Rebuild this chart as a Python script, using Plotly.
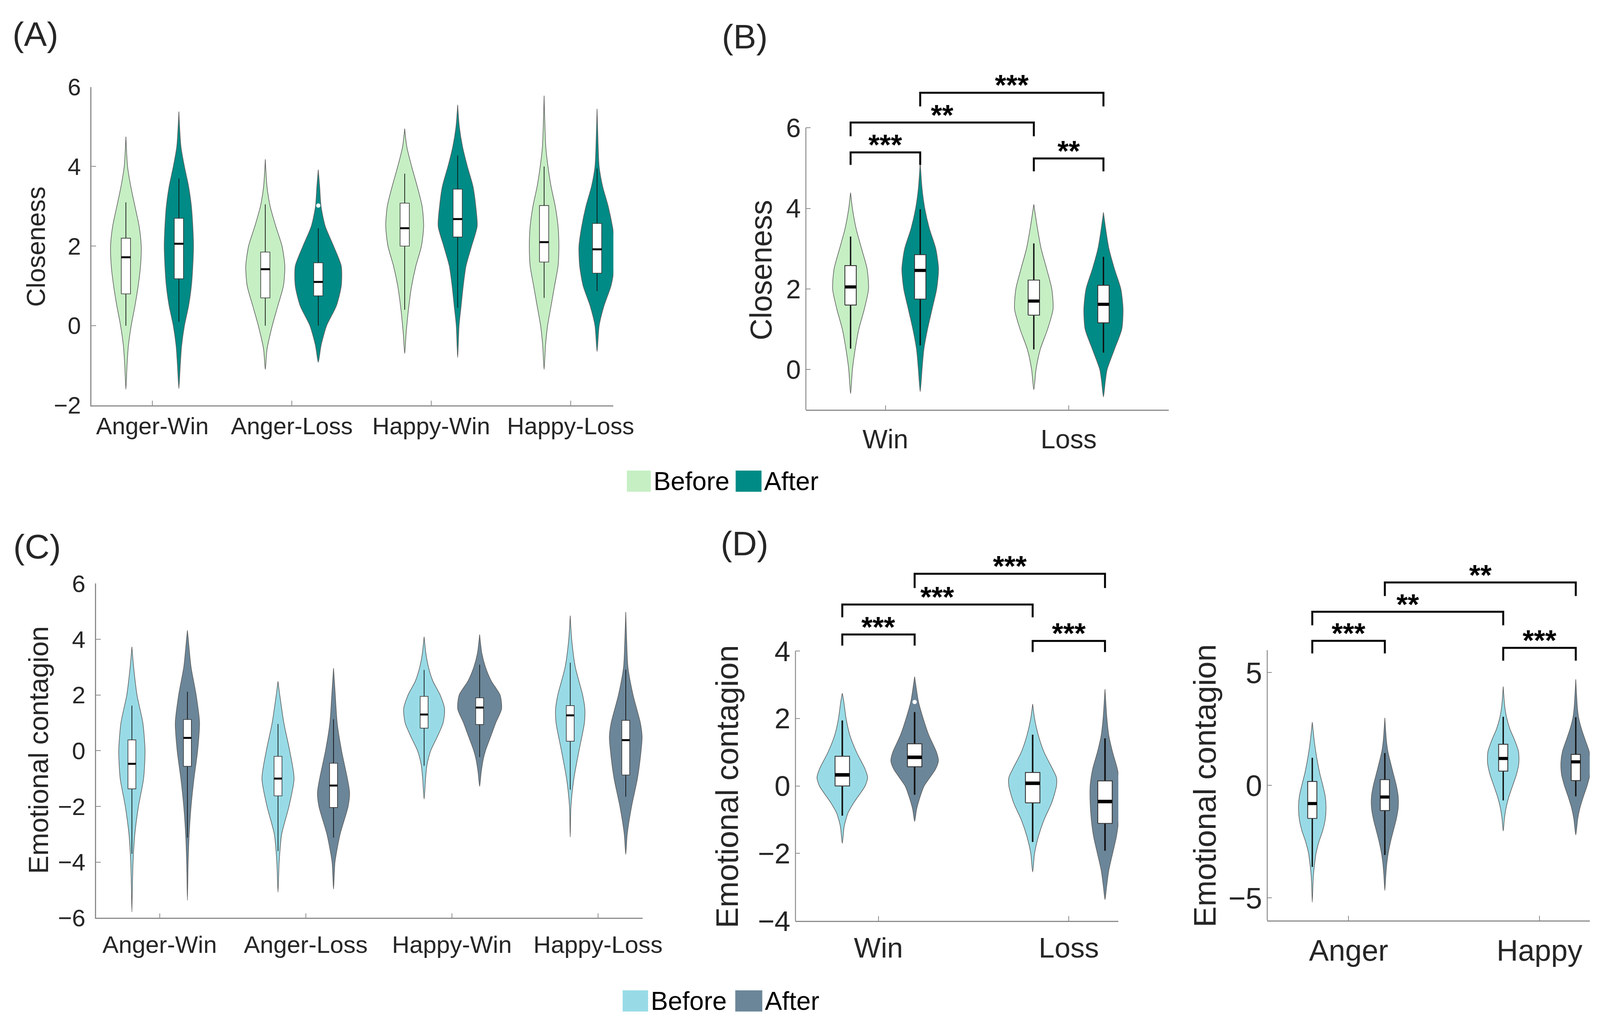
import plotly.graph_objects as go

FONT = "Liberation Sans, Arial, Helvetica, sans-serif"
TXT = "#262626"
AXC = "#8c8c8c"

GREEN_BEFORE = "#c6efc4"
GREEN_AFTER = "#008b86"
BLUE_BEFORE = "#98dbe6"
BLUE_AFTER = "#6b8699"

# ---------------- Panel A : Closeness by condition ----------------
A_CATEGORIES = ["Anger-Win", "Anger-Loss", "Happy-Win", "Happy-Loss"]
# violin outlines: [value, half-width]
A_BEFORE_PROFILES = [
    [[-1.6, 0], [-1.0, 0.008], [-0.5, 0.018], [0.0, 0.038], [0.5, 0.065], [1.0, 0.088], [1.5, 0.105],
     [2.0, 0.11], [2.5, 0.095], [3.0, 0.065], [3.5, 0.035], [4.0, 0.012], [4.75, 0]],
    [[-1.1, 0], [-0.6, 0.012], [0.0, 0.05], [0.5, 0.09], [1.0, 0.13], [1.5, 0.14], [2.0, 0.12],
     [2.5, 0.075], [3.0, 0.035], [3.5, 0.012], [4.18, 0]],
    [[-0.7, 0], [-0.2, 0.01], [0.5, 0.03], [1.0, 0.05], [1.5, 0.08], [2.0, 0.12], [2.5, 0.136],
     [3.0, 0.125], [3.5, 0.09], [4.0, 0.05], [4.5, 0.015], [4.95, 0]],
    [[-1.1, 0], [-0.5, 0.01], [0.0, 0.025], [0.5, 0.05], [1.0, 0.075], [1.5, 0.1], [2.0, 0.106],
     [2.5, 0.1], [3.0, 0.08], [3.5, 0.05], [4.0, 0.028], [4.5, 0.012], [5.78, 0]],
]
A_AFTER_PROFILES = [
    [[-1.58, 0], [-1.0, 0.01], [-0.5, 0.02], [0.0, 0.04], [0.5, 0.07], [1.0, 0.09], [1.5, 0.1],
     [2.0, 0.105], [2.5, 0.1], [3.0, 0.09], [3.5, 0.07], [4.0, 0.04], [4.5, 0.015], [5.38, 0]],
    [[-0.92, 0], [-0.5, 0.02], [0.0, 0.06], [0.5, 0.13], [1.0, 0.165], [1.5, 0.165], [2.0, 0.11],
     [2.5, 0.05], [3.0, 0.02], [3.5, 0.01], [3.92, 0]],
    [[-0.8, 0], [0.0, 0.01], [0.5, 0.025], [1.0, 0.04], [1.5, 0.06], [2.0, 0.1], [2.5, 0.14],
     [3.0, 0.13], [3.5, 0.11], [4.0, 0.07], [4.5, 0.035], [5.0, 0.012], [5.55, 0]],
    [[-0.65, 0], [0.0, 0.015], [0.5, 0.05], [1.0, 0.1], [1.5, 0.125], [2.0, 0.13], [2.5, 0.11],
     [3.0, 0.08], [3.5, 0.04], [4.0, 0.015], [4.5, 0.008], [5.45, 0]],
]
# box stats: [lower whisker, q1, median, q3, upper whisker]
A_BEFORE_STATS = [[0.0, 0.8, 1.72, 2.2, 3.1], [0.0, 0.7, 1.42, 1.85, 3.05],
                  [0.4, 2.0, 2.45, 3.08, 3.82], [0.7, 1.6, 2.1, 3.02, 4.0]]
A_AFTER_STATS = [[0.1, 1.18, 2.06, 2.7, 3.7], [0.0, 0.75, 1.1, 1.58, 2.45],
                 [0.45, 2.23, 2.68, 3.43, 4.28], [0.87, 1.32, 1.92, 2.57, 3.95]]
A_AFTER_OUTLIERS = [[], [3.02], [], []]

# ---------------- Panel B : Closeness by outcome ----------------
B_CATEGORIES = ["Win", "Loss"]
B_BEFORE_PROFILES = [
    [[-0.6, 0], [0.0, 0.01], [0.5, 0.025], [1.0, 0.045], [1.5, 0.075], [2.0, 0.098], [2.5, 0.09],
     [3.0, 0.06], [3.5, 0.03], [4.0, 0.01], [4.39, 0]],
    [[-0.5, 0], [0.0, 0.012], [0.5, 0.035], [1.0, 0.075], [1.5, 0.105], [2.0, 0.098], [2.5, 0.07],
     [3.0, 0.04], [3.5, 0.02], [4.1, 0]],
]
B_AFTER_PROFILES = [
    [[-0.55, 0], [0.0, 0.01], [0.5, 0.02], [1.0, 0.04], [1.5, 0.065], [2.0, 0.09], [2.5, 0.1],
     [3.0, 0.085], [3.5, 0.05], [4.0, 0.025], [4.5, 0.01], [5.15, 0]],
    [[-0.68, 0], [-0.3, 0.01], [0.0, 0.02], [0.5, 0.06], [1.0, 0.1], [1.5, 0.107], [2.0, 0.095],
     [2.5, 0.06], [3.0, 0.03], [3.5, 0.012], [3.9, 0]],
]
B_BEFORE_STATS = [[0.52, 1.6, 2.05, 2.58, 3.3], [0.5, 1.35, 1.7, 2.22, 3.13]]
B_AFTER_STATS = [[0.6, 1.75, 2.46, 2.85, 3.98], [0.42, 1.16, 1.62, 2.09, 2.8]]
# brackets: [from violin, to violin, bar value, leg value, label]; violins 0..3 = Win-B, Win-A, Loss-B, Loss-A
B_BRACKETS = [[0, 1, 5.39, 5.08, "***"], [2, 3, 5.24, 4.92, "**"],
              [0, 2, 6.13, 5.79, "**"], [1, 3, 6.87, 6.53, "***"]]

# ---------------- Panel C : Emotional contagion by condition ----------------
C_CATEGORIES = ["Anger-Win", "Anger-Loss", "Happy-Win", "Happy-Loss"]
C_BEFORE_PROFILES = [
    [[-5.79, 0], [-5.0, 0.003], [-4.0, 0.008], [-3.0, 0.02], [-2.0, 0.045], [-1.0, 0.08], [0.0, 0.09],
     [1.0, 0.075], [2.0, 0.035], [3.0, 0.012], [3.73, 0]],
    [[-5.08, 0], [-4.0, 0.008], [-3.0, 0.025], [-2.0, 0.075], [-1.0, 0.11], [0.0, 0.08], [1.0, 0.04],
     [2.0, 0.012], [2.49, 0]],
    [[-1.74, 0], [-1.0, 0.01], [-0.5, 0.02], [0.0, 0.045], [0.5, 0.09], [1.0, 0.13], [1.5, 0.14],
     [2.0, 0.11], [2.5, 0.06], [3.0, 0.03], [3.5, 0.012], [4.09, 0]],
    [[-3.1, 0], [-2.0, 0.005], [-1.0, 0.025], [0.0, 0.06], [1.0, 0.097], [1.5, 0.1], [2.0, 0.085],
     [3.0, 0.035], [4.0, 0.01], [4.85, 0]],
]
C_AFTER_PROFILES = [
    [[-5.37, 0], [-4.0, 0.005], [-3.0, 0.012], [-2.0, 0.025], [-1.0, 0.045], [0.0, 0.07], [1.0, 0.083],
     [2.0, 0.06], [3.0, 0.025], [4.0, 0.006], [4.32, 0]],
    [[-4.97, 0], [-4.0, 0.01], [-3.0, 0.045], [-2.0, 0.1], [-1.5, 0.11], [-1.0, 0.095], [0.0, 0.055],
     [1.0, 0.025], [2.0, 0.012], [2.96, 0]],
    [[-1.28, 0], [-0.8, 0.01], [-0.3, 0.025], [0.0, 0.04], [0.5, 0.075], [1.0, 0.11], [1.5, 0.15],
     [2.0, 0.14], [2.5, 0.08], [3.0, 0.04], [3.5, 0.015], [4.17, 0]],
    [[-3.72, 0], [-3.0, 0.01], [-2.0, 0.04], [-1.0, 0.08], [0.0, 0.105], [0.5, 0.112], [1.0, 0.1],
     [2.0, 0.05], [3.0, 0.015], [4.0, 0.006], [4.98, 0]],
]
C_BEFORE_STATS = [[-3.7, -1.37, -0.47, 0.39, 1.62], [-3.6, -1.62, -1.0, -0.2, 0.96],
                  [-0.54, 0.81, 1.3, 1.95, 2.9], [-1.4, 0.34, 1.27, 1.62, 3.16]]
C_AFTER_STATS = [[-3.12, -0.56, 0.46, 1.12, 2.12], [-3.12, -2.04, -1.25, -0.45, 1.13],
                 [-0.23, 0.94, 1.55, 1.9, 3.09], [-1.65, -0.87, 0.38, 1.09, 2.91]]

# ---------------- Panel D : Emotional contagion by outcome ----------------
D_CATEGORIES = ["Win", "Loss"]
D_BEFORE_PROFILES = [
    [[-1.7, 0], [-1.2, 0.01], [-0.8, 0.03], [-0.5, 0.06], [0.0, 0.12], [0.25, 0.133], [0.5, 0.12],
     [1.0, 0.075], [1.5, 0.04], [2.0, 0.02], [2.5, 0.008], [2.75, 0]],
    [[-2.55, 0], [-2.0, 0.01], [-1.5, 0.03], [-1.0, 0.06], [-0.5, 0.1], [0.0, 0.125], [0.25, 0.125],
     [0.5, 0.105], [1.0, 0.06], [1.5, 0.03], [2.0, 0.01], [2.43, 0]],
]
D_AFTER_PROFILES = [
    [[-1.05, 0], [-0.7, 0.01], [-0.3, 0.03], [0.0, 0.05], [0.5, 0.11], [0.75, 0.125], [1.0, 0.115],
     [1.5, 0.075], [2.0, 0.045], [2.5, 0.02], [3.0, 0.006], [3.24, 0]],
    [[-3.37, 0], [-3.0, 0.008], [-2.5, 0.02], [-2.0, 0.04], [-1.5, 0.06], [-1.0, 0.072], [-0.5, 0.078],
     [0.0, 0.078], [0.5, 0.065], [1.0, 0.04], [1.5, 0.02], [2.0, 0.01], [2.87, 0]],
]
D_BEFORE_STATS = [[-0.88, 0.0, 0.33, 0.88, 1.94], [-1.66, -0.5, 0.08, 0.4, 1.52]]
D_AFTER_STATS = [[-0.26, 0.57, 0.85, 1.25, 2.19], [-1.92, -1.11, -0.46, 0.15, 1.41]]
D_AFTER_OUTLIERS = [[2.49], []]
D_BRACKETS = [[0, 1, 4.49, 4.16, "***"], [2, 3, 4.30, 3.97, "***"],
              [0, 2, 5.38, 5.0, "***"], [1, 3, 6.29, 5.87, "***"]]

# ---------------- Panel E : Emotional contagion by emotion ----------------
E_CATEGORIES = ["Anger", "Happy"]
E_BEFORE_PROFILES = [
    [[-5.19, 0], [-4.5, 0.003], [-4.0, 0.006], [-3.5, 0.012], [-3.0, 0.02], [-2.5, 0.035], [-2.0, 0.055],
     [-1.5, 0.068], [-1.0, 0.072], [-0.5, 0.068], [0.0, 0.055], [0.5, 0.04], [1.0, 0.028], [1.5, 0.018],
     [2.0, 0.01], [2.8, 0]],
    [[-2.03, 0], [-1.5, 0.006], [-1.0, 0.015], [-0.5, 0.03], [0.0, 0.05], [0.5, 0.07], [1.0, 0.082],
     [1.5, 0.08], [2.0, 0.06], [2.5, 0.035], [3.0, 0.018], [3.5, 0.008], [4.38, 0]],
]
E_AFTER_PROFILES = [
    [[-4.67, 0], [-4.0, 0.005], [-3.5, 0.01], [-3.0, 0.018], [-2.5, 0.03], [-2.0, 0.045], [-1.5, 0.06],
     [-1.0, 0.07], [-0.5, 0.07], [0.0, 0.06], [0.5, 0.045], [1.0, 0.03], [1.5, 0.016], [2.0, 0.008],
     [2.99, 0]],
    [[-2.2, 0], [-1.5, 0.01], [-1.0, 0.022], [-0.5, 0.04], [0.0, 0.06], [0.5, 0.075], [1.0, 0.078],
     [1.5, 0.07], [2.0, 0.05], [2.5, 0.03], [3.0, 0.015], [3.5, 0.008], [4.7, 0]],
]
E_BEFORE_STATS = [[-3.62, -1.47, -0.81, 0.17, 1.22], [-0.67, 0.63, 1.19, 1.82, 3.04]]
E_AFTER_STATS = [[-3.09, -1.12, -0.52, 0.25, 1.43], [-0.49, 0.21, 1.04, 1.37, 3.02]]
E_BRACKETS = [[0, 1, 6.41, 5.85, "***"], [2, 3, 6.1, 5.53, "***"],
              [0, 2, 7.7, 7.1, "**"], [1, 3, 9.0, 8.4, "**"]]

Y_TICKS_A = [-2, 0, 2, 4, 6]
Y_TICKS_B = [0, 2, 4, 6]
Y_TICKS_C = [-6, -4, -2, 0, 2, 4, 6]
Y_TICKS_D = [-4, -2, 0, 2, 4]
Y_TICKS_E = [-5, 0, 5]

W, H = 4166, 2635


def px_x(p):
    return p / W


def px_y(p):
    return 1 - p / H


PANELS = [
    dict(ax="", cats=A_CATEGORIES, bp=A_BEFORE_PROFILES, ap=A_AFTER_PROFILES, bs=A_BEFORE_STATS,
         as_=A_AFTER_STATS, out=A_AFTER_OUTLIERS, br=[], cols=(GREEN_BEFORE, GREEN_AFTER),
         xdom=[229, 1582], xr=[0.563, 4.307], ydom=[1025, 186], yr=[-2, 6], axis_top=6, ticks=Y_TICKS_A,
         font=61, xstand=-2, boxhalf=0.033, boxlw=1.6, whlw=1.8, medw=5, title="Closeness",
         tpos=(85, 607), tsize=66),
    dict(ax="2", cats=B_CATEGORIES, bp=B_BEFORE_PROFILES, ap=B_AFTER_PROFILES, bs=B_BEFORE_STATS,
         as_=B_AFTER_STATS, out=None, br=B_BRACKETS, cols=(GREEN_BEFORE, GREEN_AFTER),
         xdom=[2081, 3022], xr=[0.566, 2.547], ydom=[1037, 139.6], yr=[-1, 7.45], axis_top=6, ticks=Y_TICKS_B,
         font=68, xstand=14, boxhalf=0.031, boxlw=2.2, whlw=3.5, medw=8, title="Closeness",
         tpos=(1965, 668), tsize=77),
    dict(ax="3", cats=C_CATEGORIES, bp=C_BEFORE_PROFILES, ap=C_AFTER_PROFILES, bs=C_BEFORE_STATS,
         as_=C_AFTER_STATS, out=None, br=[], cols=(BLUE_BEFORE, BLUE_AFTER),
         xdom=[241, 1658], xr=[0.565, 4.306], ydom=[2376, 1495], yr=[-6, 6], axis_top=6, ticks=Y_TICKS_C,
         font=62, xstand=12, boxhalf=0.027, boxlw=1.6, whlw=1.8, medw=5, title="Emotional contagion",
         tpos=(92, 1934), tsize=70),
    dict(ax="4", cats=D_CATEGORIES, bp=D_BEFORE_PROFILES, ap=D_AFTER_PROFILES, bs=D_BEFORE_STATS,
         as_=D_AFTER_STATS, out=D_AFTER_OUTLIERS, br=D_BRACKETS, cols=(BLUE_BEFORE, BLUE_AFTER),
         xdom=[2054, 2891], xr=[0.564, 2.26], ydom=[2384, 1410.5], yr=[-4, 6.95], axis_top=4, ticks=Y_TICKS_D,
         font=73, xstand=4, boxhalf=0.038, boxlw=2.2, whlw=4, medw=9, title="Emotional contagion",
         tpos=(1877, 2030), tsize=80),
    dict(ax="5", cats=E_CATEGORIES, bp=E_BEFORE_PROFILES, ap=E_AFTER_PROFILES, bs=E_BEFORE_STATS,
         as_=E_AFTER_STATS, out=None, br=E_BRACKETS, cols=(BLUE_BEFORE, BLUE_AFTER),
         xdom=[3277, 4113], xr=[0.574, 2.263], ydom=[2383, 1435.6], yr=[-6, 9.95], axis_top=6, ticks=Y_TICKS_E,
         font=76, xstand=9, boxhalf=0.024, boxlw=2.2, whlw=3.5, medw=8, title="Emotional contagion",
         tpos=(3115, 2028), tsize=80),
]

DODGE = 0.19

fig = go.Figure()
layout = dict(width=W, height=H, margin=dict(l=0, r=0, t=0, b=0), paper_bgcolor="white",
              plot_bgcolor="white", showlegend=False, font=dict(family=FONT, color=TXT))
shapes = []
annotations = []

for p in PANELS:
    xa, ya = "x" + p["ax"], "y" + p["ax"]
    xkey, ykey = "xaxis" + p["ax"], "yaxis" + p["ax"]
    has_brackets = len(p["br"]) > 0
    layout[xkey] = dict(
        domain=[px_x(p["xdom"][0]), px_x(p["xdom"][1])], range=p["xr"], anchor=ya,
        tickvals=list(range(1, len(p["cats"]) + 1)), ticktext=p["cats"],
        showline=True, linecolor=AXC, linewidth=2.5, ticks="inside", ticklen=12, tickwidth=2,
        tickcolor=AXC, showgrid=False, zeroline=False,
        tickfont=dict(family=FONT, size=p["font"], color=TXT), ticklabelstandoff=p["xstand"])
    layout[ykey] = dict(
        domain=[px_y(p["ydom"][0]), px_y(p["ydom"][1])], range=p["yr"], anchor=xa,
        tickvals=p["ticks"], showline=not has_brackets, linecolor=AXC, linewidth=2.5,
        ticks="inside", ticklen=12, tickwidth=2, tickcolor=AXC, showgrid=False, zeroline=False,
        tickfont=dict(family=FONT, size=p["font"], color=TXT), ticklabelstandoff=12)
    if has_brackets:
        shapes.append(dict(type="line", xref="paper", yref=ya, x0=px_x(p["xdom"][0]),
                           x1=px_x(p["xdom"][0]), y0=p["yr"][0], y1=p["axis_top"],
                           line=dict(color=AXC, width=2.5), layer="above"))

    centers = []
    for i in range(len(p["cats"])):
        for cond, (profiles, stats, col) in enumerate(
                [(p["bp"], p["bs"], p["cols"][0]), (p["ap"], p["as_"], p["cols"][1])]):
            c = (i + 1) + (-DODGE if cond == 0 else DODGE)
            centers.append(c)
            prof = profiles[i]
            ys = [v[0] for v in prof]
            ws = [v[1] for v in prof]
            vx = [c + w for w in ws] + [c - w for w in reversed(ws)]
            vy = ys + ys[::-1]
            # violin body
            fig.add_trace(go.Scatter(
                x=vx, y=vy, mode="lines", fill="toself", fillcolor=col,
                line=dict(color="#5f5f5f", width=1.6, shape="spline", smoothing=0.7),
                xaxis=xa, yaxis=ya, hoverinfo="skip", showlegend=False))
            lo, q1, med, q3, hi = stats[i]
            bh = p["boxhalf"]
            # whiskers
            fig.add_trace(go.Scatter(
                x=[c, c, None, c, c], y=[lo, q1, None, q3, hi], mode="lines",
                line=dict(color="#111111", width=p["whlw"]), xaxis=xa, yaxis=ya,
                hoverinfo="skip", showlegend=False))
            # box (q1..q3)
            fig.add_trace(go.Scatter(
                x=[c - bh, c + bh, c + bh, c - bh, c - bh], y=[q1, q1, q3, q3, q1], mode="lines",
                fill="toself", fillcolor="white", line=dict(color="#333333", width=p["boxlw"]),
                xaxis=xa, yaxis=ya, hoverinfo="skip", showlegend=False))
            # median
            fig.add_trace(go.Scatter(
                x=[c - bh, c + bh], y=[med, med], mode="lines",
                line=dict(color="black", width=p["medw"]), xaxis=xa, yaxis=ya,
                hoverinfo="skip", showlegend=False))
            if cond == 1 and p["out"] is not None and p["out"][i]:
                fig.add_trace(go.Scatter(
                    x=[c] * len(p["out"][i]), y=p["out"][i], mode="markers",
                    marker=dict(color="white", size=11, line=dict(width=0)),
                    xaxis=xa, yaxis=ya, hoverinfo="skip", showlegend=False))

    for a, b, top, leg, lab in p["br"]:
        x1, x2 = centers[a], centers[b]
        fig.add_trace(go.Scatter(
            x=[x1, x1, x2, x2], y=[leg, top, top, leg], mode="lines",
            line=dict(color="black", width=5), xaxis=xa, yaxis=ya,
            hoverinfo="skip", showlegend=False))
        annotations.append(dict(
            x=(x1 + x2) / 2, y=top, xref=xa, yref=ya, text="<b>" + lab + "</b>", showarrow=False,
            xanchor="center", yanchor="bottom", yshift=-24,
            font=dict(family=FONT, size=74, color="black")))

    tx, ty = p["tpos"]
    annotations.append(dict(
        x=px_x(tx), y=px_y(ty), xref="paper", yref="paper", text=p["title"], textangle=-90,
        showarrow=False, xanchor="center", yanchor="middle",
        font=dict(family=FONT, size=p["tsize"], color=TXT)))

# panel letters
for lab, (lx, ly) in [("(A)", (84, 47)), ("(B)", (1922, 53)), ("(C)", (88, 1397)), ("(D)", (1922, 1389))]:
    annotations.append(dict(x=px_x(lx), y=px_y(ly), xref="paper", yref="paper", text=lab,
                            showarrow=False, xanchor="center", yanchor="middle",
                            font=dict(family=FONT, size=88, color=TXT)))

# legends (drawn as keys)
LEGEND_LABELS = ["Before", "After"]
for (yc, cols, keys) in [(1225, (GREEN_BEFORE, GREEN_AFTER), [(1617, 1679), (1899, 1966)]),
                         (2595, (BLUE_BEFORE, BLUE_AFTER), [(1606, 1672), (1898, 1968)])]:
    for lab, col, (k0, k1) in zip(LEGEND_LABELS, cols, keys):
        shapes.append(dict(type="rect", xref="paper", yref="paper", x0=px_x(k0), x1=px_x(k1),
                           y0=px_y(yc + 28), y1=px_y(yc - 28), fillcolor=col, line=dict(width=0)))
        annotations.append(dict(x=px_x(k1 + 5), y=px_y(yc), xref="paper", yref="paper", text=lab,
                                showarrow=False, xanchor="left", yanchor="middle",
                                font=dict(family=FONT, size=66, color="black")))

layout["shapes"] = shapes
layout["annotations"] = annotations
fig.update_layout(**layout)
fig.write_html("out.html")
